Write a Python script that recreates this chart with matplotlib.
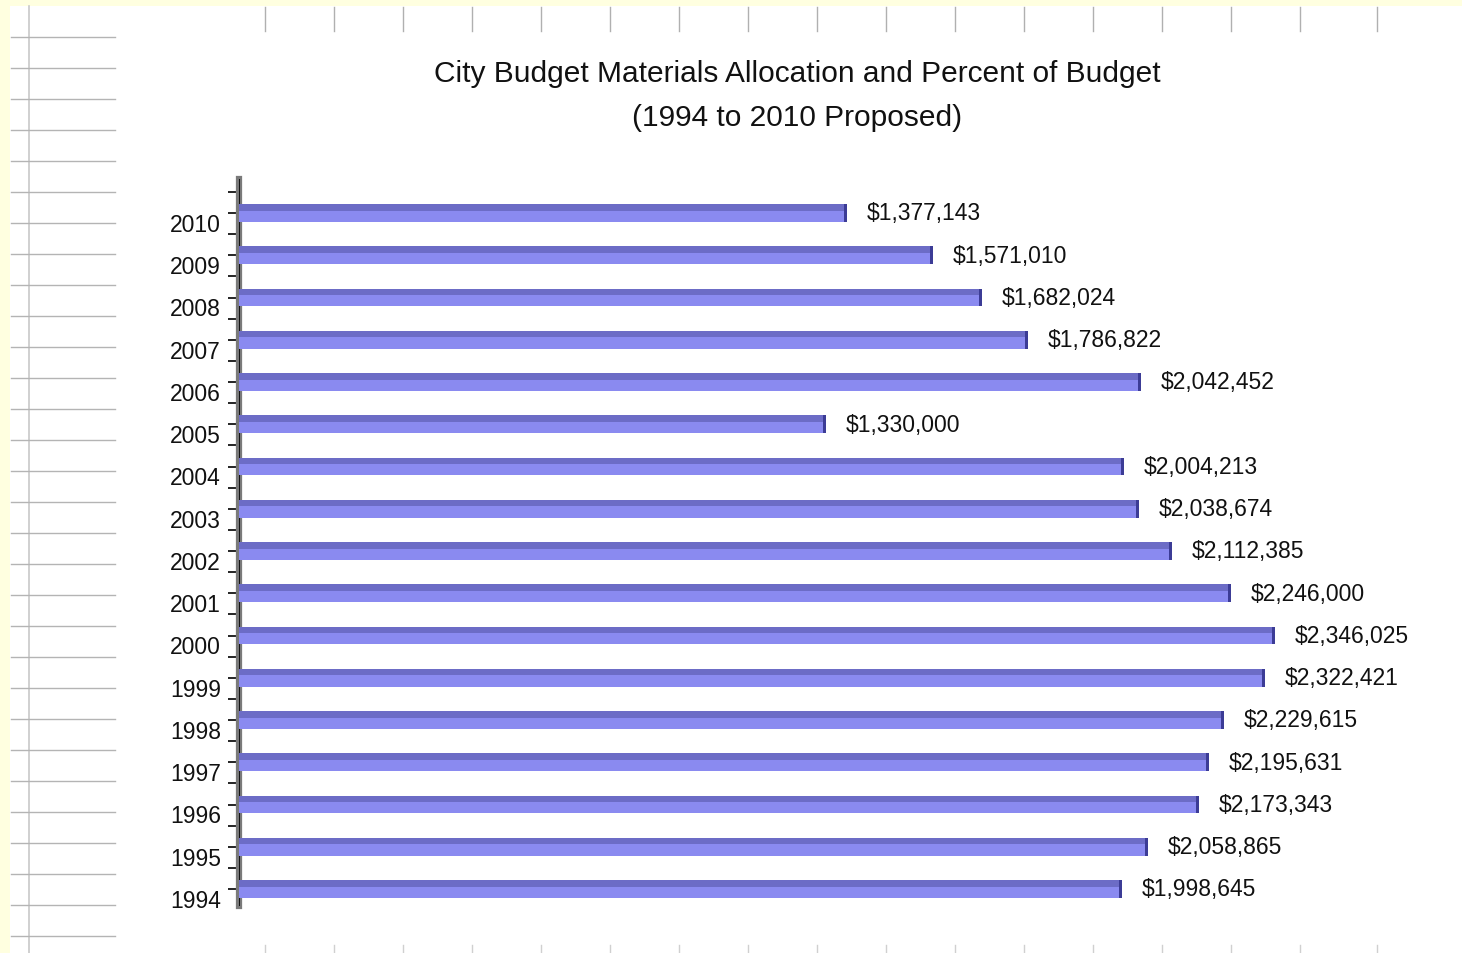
import numpy as np
import matplotlib
matplotlib.use('Agg')
import matplotlib.pyplot as plt
from matplotlib.lines import Line2D
from matplotlib.patches import Rectangle

# Data
years = list(range(1994, 2011))
amounts = [1998645, 2058865, 2173343, 2195631, 2229615, 2322421, 2346025,
           2246000, 2112385, 2038674, 2004213, 1330000, 2042452, 1786822,
           1682024, 1571010, 1377143]
title = 'City Budget Materials Allocation and Percent of Budget\n(1994 to 2010 Proposed)'

plt.rcParams['font.family'] = ['Liberation Sans', 'DejaVu Sans']

W, H = 1462, 954
fig = plt.figure(figsize=(W / 100, H / 100), dpi=100, facecolor='white')

# spreadsheet background: yellow margins, grid stubs on the left
fig.patches.append(Rectangle((0, 0), 10 / W, 1, transform=fig.transFigure,
                             facecolor='#FFFFE0', edgecolor='none', zorder=0))
fig.patches.append(Rectangle((0, 1 - 7 / H), 1, 7 / H, transform=fig.transFigure,
                             facecolor='#FFFFE0', edgecolor='none', zorder=0))
fig.lines.append(Line2D([29 / W, 29 / W], [0, 1 - 7 / H], transform=fig.transFigure,
                        color='#c8c8c8', lw=1.2))
for yy in np.arange(38, 950, 31):
    fig.lines.append(Line2D([11 / W, 115 / W], [1 - yy / H] * 2, transform=fig.transFigure,
                            color='#b4b4b4', lw=1.0))
for xx in list(np.arange(265, 1310, 69)) + [1377]:
    fig.lines.append(Line2D([xx / W] * 2, [1 - 8 / H, 1 - 32 / H], transform=fig.transFigure,
                            color='#b0b0b0', lw=1.0))
    fig.lines.append(Line2D([xx / W] * 2, [0, 8 / H], transform=fig.transFigure,
                            color='#d0d0d0', lw=1.0))

# axes placement (pixels): value 0 at x=239, 0.0004417 px per dollar
xmax = 2.6e6
px_per = 0.0004417
left_px = 239
right_px = left_px + xmax * px_per
ylo, yhi = -0.4, 16.8
step = 42.25
y0_px = 890  # centre of 1994 bar
bot_px = y0_px + (0 - ylo) * step
top_px = y0_px - yhi * step
ax = fig.add_axes([left_px / W, 1 - bot_px / H, (right_px - left_px) / W, (bot_px - top_px) / H])
ax.set_facecolor('none')
ax.set_xlim(0, xmax)
ax.set_ylim(ylo, yhi)

pos = np.arange(len(years))
light = '#8A8AF0'
dark = '#6C6CC6'
h = 0.42
ax.barh(pos, amounts, height=h, color=light, zorder=3)
ax.barh(pos + h * 0.32, amounts, height=h * 0.36, color=dark, zorder=3)
cap = 7000
ax.barh(pos, [cap] * len(amounts), left=np.array(amounts) - cap, height=h,
        color='#3c3c96', zorder=4)

for p, v in zip(pos, amounts):
    ax.annotate(f'${v:,}', (v, p), xytext=(14, 0), textcoords='offset points',
                va='center', ha='left', fontsize=16.5, color='#111111')

# axes styling
for s in ['top', 'right', 'bottom']:
    ax.spines[s].set_visible(False)
ax.spines['left'].set_color('#7a7a7a')
ax.spines['left'].set_linewidth(4.5)
ax.axvline(0, color='black', lw=1.2, zorder=2.6)
ax.set_xticks([])

ax.set_yticks(pos - 0.21)
ax.set_yticklabels([str(y) for y in years], fontsize=16.5, color='#111111')
ax.tick_params(axis='y', which='major', length=0, pad=13)
ax.set_yticks(np.concatenate([pos, pos + 0.5]), minor=True)
ax.tick_params(axis='y', which='minor', length=8, width=1.2, color='black')

fig.text(797 / W, 1 - 96 / H, title, ha='center', va='center', fontsize=21.5,
         linespacing=1.75, color='#111111')

fig.savefig('out.png', dpi=100, facecolor='white')
